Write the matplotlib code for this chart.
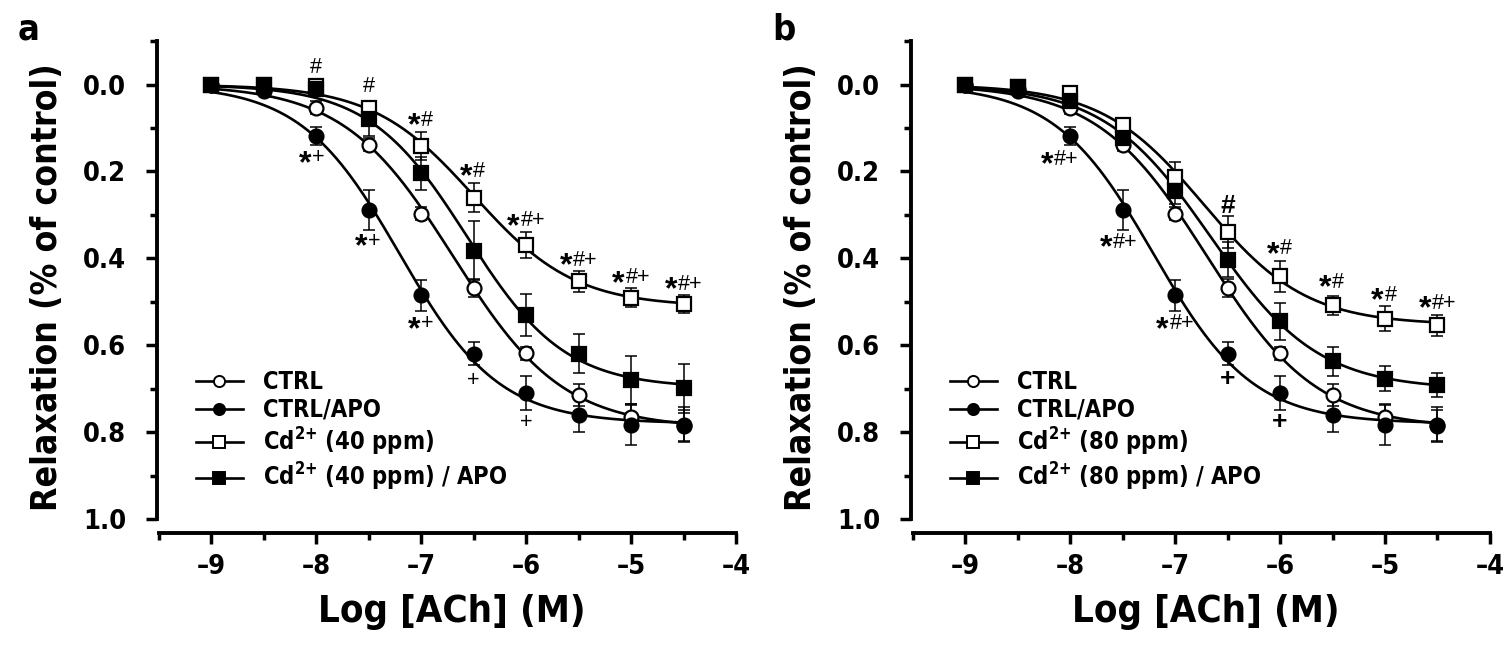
import numpy as np
import matplotlib
matplotlib.use("Agg")
import matplotlib.pyplot as plt
from matplotlib import font_manager

# look for a bold condensed sans (Arial Narrow look), else plain Liberation Sans
main_font = 'Liberation Sans'
main_stretch = 'normal'
cands = []
for f in font_manager.fontManager.ttflist:
    w = f.weight if isinstance(f.weight, int) else (700 if 'bold' in str(f.weight) else 400)
    narrow = ('Narrow' in f.name or 'Condensed' in f.name or
              str(f.stretch) in ('condensed', 'semi-condensed'))
    if narrow and w >= 600 and f.style == 'normal':
        cands.append(f)
pref = ['Liberation Sans Narrow', 'DejaVu Sans', 'Roboto Condensed']
cands.sort(key=lambda f: pref.index(f.name) if f.name in pref else 9)
if cands:
    main_font = cands[0].name
    if str(cands[0].stretch) in ('condensed', 'semi-condensed'):
        main_stretch = cands[0].stretch
plt.rcParams['font.family'] = [main_font, 'Liberation Sans', 'DejaVu Sans']
plt.rcParams['font.stretch'] = main_stretch
plt.rcParams['mathtext.default'] = 'regular'

# log concentration of ACh
log_ach = [-9, -8.5, -8, -7.5, -7, -6.5, -6, -5.5, -5, -4.5]
x_ticks = [-9, -8, -7, -6, -5, -4]
x_ticklabels = ['\u20139', '\u20138', '\u20137', '\u20136', '\u20135', '\u20134']
y_ticks = [0.0, 0.2, 0.4, 0.6, 0.8, 1.0]
y_ticklabels = ['0.0', '0.2', '0.4', '0.6', '0.8', '1.0']

# control groups (same in both panels)
ctrl = [0, 0.01, 0.053, 0.138, 0.297, 0.468, 0.618, 0.715, 0.764, 0.783]
ctrl_err = [0, 0.008, 0.015, 0.015, 0.015, 0.02, 0.015, 0.025, 0.03, 0.04]
ctrl_apo = [0, 0.015, 0.118, 0.289, 0.485, 0.619, 0.709, 0.76, 0.783, 0.785]
ctrl_apo_err = [0, 0.01, 0.02, 0.046, 0.036, 0.026, 0.039, 0.04, 0.046, 0.035]

# Cd 40 ppm
cd40 = [0, 0.0, 0.004, 0.055, 0.141, 0.26, 0.369, 0.453, 0.491, 0.505]
cd40_err = [0, 0.005, 0.012, 0.015, 0.032, 0.033, 0.03, 0.024, 0.022, 0.02]
cd40_apo = [0, 0.0, 0.01, 0.08, 0.204, 0.382, 0.53, 0.619, 0.68, 0.699]
cd40_apo_err = [0, 0.005, 0.012, 0.038, 0.038, 0.068, 0.049, 0.044, 0.055, 0.056]

# Cd 80 ppm
cd80 = [0, 0.005, 0.02, 0.094, 0.213, 0.339, 0.441, 0.508, 0.539, 0.554]
cd80_err = [0, 0.005, 0.012, 0.015, 0.035, 0.036, 0.036, 0.022, 0.029, 0.024]
cd80_apo = [0, 0.005, 0.038, 0.122, 0.245, 0.403, 0.545, 0.637, 0.677, 0.692]
cd80_apo_err = [0, 0.005, 0.012, 0.02, 0.03, 0.04, 0.042, 0.034, 0.029, 0.028]

# significance marks: (text, x, y)
marks_a = [('#', -8.0, -0.04), ('#', -7.5, 0.005), ('*#', -7.0, 0.082),
           ('*#', -6.5, 0.20), ('*#+', -6.0, 0.313), ('*#+', -5.5, 0.404),
           ('*#+', -5.0, 0.445), ('*#+', -4.5, 0.459), ('*+', -8.04, 0.168),
           ('*+', -7.5, 0.36), ('*+', -7.0, 0.55), ('+', -6.5, 0.68),
           ('+', -6.0, 0.777)]
marks_b = [('*#+', -8.1, 0.172), ('*#+', -7.54, 0.363), ('*#+', -7.0, 0.55),
           ('#', -6.5, 0.279), ('*#', -6.0, 0.378), ('*#', -5.5, 0.455),
           ('*#', -5.0, 0.485), ('*#+', -4.5, 0.503), ('+', -6.5, 0.677),
           ('+', -6.0, 0.776)]

sym_font = ['Liberation Sans', 'DejaVu Sans']


def fit_curve(x, y):
    # least squares sigmoid fit (top fixed at 0), brute force grid
    x = np.array(x)
    y = np.array(y)
    ec = np.arange(-9.0, -4.0, 0.005)[:, None, None]
    h = np.arange(0.3, 1.6, 0.01)[None, :, None]
    f = 1.0 / (1.0 + 10 ** ((ec - x[None, None, :]) * h))
    bottom = (f * y).sum(-1) / (f * f).sum(-1)
    err = ((bottom[..., None] * f - y) ** 2).sum(-1)
    i, j = np.unravel_index(np.argmin(err), err.shape)
    xs = np.linspace(x[0], x[-1], 300)
    return xs, bottom[i, j] / (1.0 + 10 ** ((ec[i, 0, 0] - xs) * h[0, j, 0]))


def series(ax, y, err, marker, fill, label):
    xs, ys = fit_curve(log_ach, y)
    ax.plot(xs, ys, color='black', lw=1.9, zorder=2)
    ax.errorbar(log_ach, y, yerr=err, fmt='none', ecolor='black', elinewidth=1.1,
                capsize=4.5, capthick=1.1, zorder=3)
    ax.plot(log_ach, y, ls='none', marker=marker, ms=10, mfc=fill, mec='black',
            mew=1.6, zorder=4)
    ax.plot([], [], color='black', lw=1.9, marker=marker, ms=8, mfc=fill,
            mec='black', mew=1.4, label=label)


def put_mark(ax, s, x, y, bold_plus=False):
    if s.startswith('*'):
        rest = s[1:]
        shift = 3 - 3.8 * len(rest)
        ax.annotate('*', (x, y), xytext=(shift, -4.5), textcoords='offset points',
                    ha='right', va='center', fontsize=23, fontweight='bold',
                    family=sym_font, fontstretch='normal')
        ax.annotate(rest, (x, y), xytext=(shift + 0.5, 0), textcoords='offset points',
                    ha='left', va='center', fontsize=15.5, family=sym_font,
                    fontstretch='normal')
    else:
        ax.text(x, y, s, ha='center', va='center', fontsize=15.5 if not bold_plus else 19,
                fontweight='bold' if bold_plus else 'normal', family=sym_font,
                fontstretch='normal')


def setup(ax):
    ax.set_xlim(-9.52, -3.9)
    ax.set_ylim(1.032, -0.1)
    ax.spines['top'].set_visible(False)
    ax.spines['right'].set_visible(False)
    ax.spines['left'].set_bounds(-0.1, 1.0)
    ax.spines['bottom'].set_bounds(-9.5, -4.0)
    ax.spines['left'].set_linewidth(2.8)
    ax.spines['bottom'].set_linewidth(2.8)
    ax.set_yticks(y_ticks)
    ax.set_yticks([-0.1, 0.1, 0.3, 0.5, 0.7, 0.9], minor=True)
    ax.set_yticklabels(y_ticklabels)
    ax.set_xticks(x_ticks)
    ax.set_xticklabels(x_ticklabels)
    ax.set_xticks([-9.5, -8.5, -7.5, -6.5, -5.5, -4.5], minor=True)
    ax.tick_params(which='major', length=8, width=2.5, labelsize=19.5, pad=14)
    ax.tick_params(which='minor', length=5, width=2.5)
    ax.tick_params(axis='x', which='major', pad=7)
    for lab in ax.get_xticklabels() + ax.get_yticklabels():
        lab.set_fontweight('bold')
    ax.set_xlabel('Log [ACh] (M)', fontsize=27.5, fontweight='bold', labelpad=10)
    ax.set_ylabel('Relaxation (% of control)', fontsize=25.5, fontweight='bold', labelpad=14)


fig = plt.figure(figsize=(15.06, 6.48), dpi=100)
ax_a = fig.add_axes([0.1041, 0.1775, 0.3916, 0.759])
ax_b = fig.add_axes([0.6047, 0.1775, 0.3916, 0.759])

for ax, cd, cd_err, cd_apo, cd_apo_err, ppm in [
        (ax_a, cd40, cd40_err, cd40_apo, cd40_apo_err, '40'),
        (ax_b, cd80, cd80_err, cd80_apo, cd80_apo_err, '80')]:
    series(ax, ctrl, ctrl_err, 'o', 'white', 'CTRL')
    series(ax, ctrl_apo, ctrl_apo_err, 'o', 'black', 'CTRL/APO')
    series(ax, cd, cd_err, 's', 'white', 'Cd$^{2{+}}$ (' + ppm + ' ppm)')
    series(ax, cd_apo, cd_apo_err, 's', 'black', 'Cd$^{2{+}}$ (' + ppm + ' ppm) / APO')
    setup(ax)
    leg = ax.legend(loc='upper left', bbox_to_anchor=(0.05, 0.35), frameon=False,
                    fontsize=17, handlelength=2.0, handletextpad=0.85,
                    labelspacing=0.15, borderaxespad=0)
    for t in leg.get_texts():
        t.set_fontweight('bold')

for s, x, y in marks_a:
    put_mark(ax_a, s, x, y)
for s, x, y in marks_b:
    put_mark(ax_b, s, x, y, bold_plus=True)

fig.text(0.012, 0.955, 'a', fontsize=26, fontweight='bold', va='center')
fig.text(0.513, 0.955, 'b', fontsize=26, fontweight='bold', va='center')

fig.savefig('out.png', dpi=100)
